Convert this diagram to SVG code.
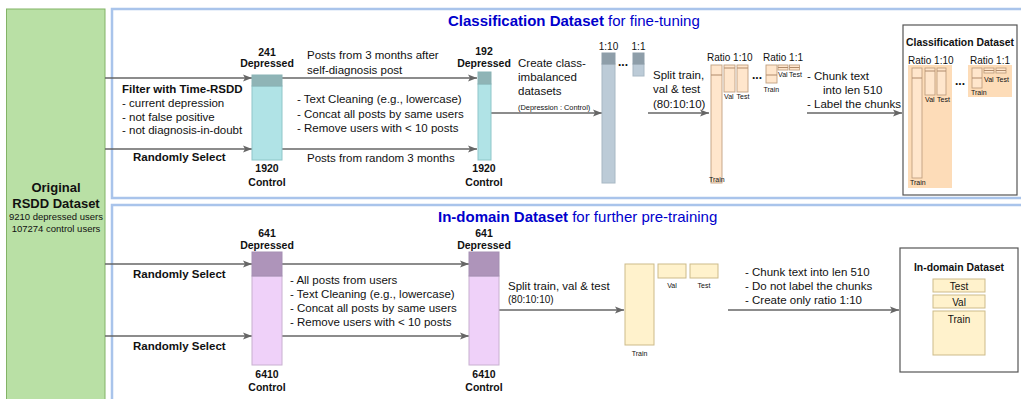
<svg xmlns="http://www.w3.org/2000/svg" width="1021" height="399" viewBox="0 0 1021 399">
<defs>
<marker id="arr" markerUnits="userSpaceOnUse" markerWidth="10" markerHeight="8" refX="9" refY="4" orient="auto">
<path d="M0,0.5 L9,4 L0,7.5 L2,4 z" fill="#666"/>
</marker>
</defs>
<style>
text{font-family:"Liberation Sans",Arial,Helvetica,sans-serif;fill:#111}
.b{font-weight:bold}
.t{font-size:11.5px}
.lbl{font-size:10.5px;font-weight:bold;text-anchor:middle}
.sm{font-size:7px}
.panel{fill:#fff;stroke:#a9c4eb;stroke-width:2.5}
.conn line{stroke:#666;stroke-width:1.6;marker-end:url(#arr)}
.tealD{fill:#8fb4b6;stroke:#8ab3b5}
.tealL{fill:#b0e3e6;stroke:#8fc6c9}
.purD{fill:#ae94ba;stroke:#a58fb3}
.purL{fill:#efd1f9;stroke:#c8b0d0}
.gbD{fill:#8e9ea9;stroke:#8e9ea9}
.gbL{fill:#bccbd7;stroke:#a8b8c4}
.or{fill:#ffe6cc;stroke:#c0a080;stroke-width:0.9}
.orA{fill:#fddcb8}
.ye{fill:#fff2cc;stroke:#cdbb8a;stroke-width:1}
.ttl{font-size:15px;fill:#0000cc}
</style>

<g id="original">
<rect x="6.5" y="9" width="98.5" height="395" fill="#b9e0a5" stroke="#82b366" stroke-width="1"/>
<text x="56" y="191.5" class="b" font-size="13" text-anchor="middle">Original</text>
<text x="56" y="207.5" class="b" font-size="13" text-anchor="middle">RSDD Dataset</text>
<text x="56" y="219.5" font-size="9.5" text-anchor="middle">9210 depressed users</text>
<text x="56" y="231.5" font-size="9.5" text-anchor="middle">107274 control users</text>
</g>

<g id="panel-classification">
<rect class="panel" x="112" y="9" width="920" height="189"/>
<text x="448" y="26" class="ttl"><tspan font-weight="bold">Classification Dataset</tspan> for fine-tuning</text>
</g>
<g id="panel-indomain">
<rect class="panel" x="112" y="205" width="920" height="200"/>
<text x="438" y="222" class="ttl"><tspan font-weight="bold">In-domain Dataset</tspan> for further pre-training</text>
</g>

<g id="conn" class="conn">
<line x1="105" y1="78" x2="252" y2="78"/>
<line x1="105" y1="149" x2="252" y2="149"/>
<line x1="282" y1="78" x2="477" y2="78"/>
<line x1="282" y1="149" x2="477" y2="149"/>
<line x1="491" y1="113" x2="602" y2="113"/>
<line x1="648" y1="113" x2="709" y2="113"/>
<line x1="807" y1="113" x2="902" y2="113"/>
<line x1="105" y1="264" x2="252" y2="264"/>
<line x1="105" y1="336" x2="252" y2="336"/>
<line x1="282" y1="264" x2="469" y2="264"/>
<line x1="282" y1="336" x2="469" y2="336"/>
<line x1="499" y1="310" x2="624" y2="310"/>
<line x1="728" y1="310" x2="899" y2="310"/>
</g>

<g id="edge-labels-top">
<text class="t b" x="122" y="93">Filter with Time-RSDD</text>
<text class="t" x="122" y="107">- current depression</text>
<text class="t" x="122" y="121">- not false positive</text>
<text class="t" x="122" y="134">- not diagnosis-in-doubt</text>
<text class="t b" x="133" y="161">Randomly Select</text>
<text class="t" x="307" y="59">Posts from 3 months after</text>
<text class="t" x="307" y="74">self-diagnosis post</text>
<text class="t" x="297" y="103">- Text Cleaning (e.g., lowercase)</text>
<text class="t" x="297" y="118">- Concat all posts by same users</text>
<text class="t" x="297" y="132">- Remove users with &lt; 10 posts</text>
<text class="t" x="307" y="162">Posts from random 3 months</text>
<text class="t" x="518" y="67">Create class-</text>
<text class="t" x="518" y="81">imbalanced</text>
<text class="t" x="518" y="95">datasets</text>
<text x="518" y="109.5" font-size="7.4">(Depression : Control)</text>
<text class="t" x="653" y="79">Split train,</text>
<text class="t" x="653" y="93">val &amp; test</text>
<text class="t" x="653" y="107.5">(80:10:10)</text>
<text class="t" x="807" y="80">- Chunk text</text>
<text class="t" x="823" y="94">into len 510</text>
<text class="t" x="807" y="108">- Label the chunks</text>
</g>

<g id="edge-labels-bottom">
<text class="t b" x="133" y="278">Randomly Select</text>
<text class="t b" x="133" y="350">Randomly Select</text>
<text class="t" x="290" y="284">- All posts from users</text>
<text class="t" x="290" y="298">- Text Cleaning (e.g., lowercase)</text>
<text class="t" x="290" y="312">- Concat all posts by same users</text>
<text class="t" x="290" y="326">- Remove users with &lt; 10 posts</text>
<text class="t" x="508" y="290">Split train, val &amp; test</text>
<text x="508" y="302.5" font-size="10">(80:10:10)</text>
<text class="t" x="745" y="276">- Chunk text into len 510</text>
<text class="t" x="745" y="290">- Do not label the chunks</text>
<text class="t" x="745" y="304">- Create only ratio 1:10</text>
</g>

<g id="bar-241">
<rect class="tealL" x="252" y="86" width="30" height="74"/>
<rect class="tealD" x="252" y="75" width="30" height="11"/>
<text class="lbl" x="267" y="56">241</text>
<text class="lbl" x="267" y="67">Depressed</text>
<text class="lbl" x="267" y="172">1920</text>
<text class="lbl" x="267" y="186">Control</text>
</g>

<g id="bar-192">
<rect class="tealL" x="478" y="84" width="13" height="76"/>
<rect class="tealD" x="478" y="72" width="13" height="12"/>
<text class="lbl" x="484" y="55">192</text>
<text class="lbl" x="484" y="67">Depressed</text>
<text class="lbl" x="484" y="172">1920</text>
<text class="lbl" x="484" y="186">Control</text>
</g>

<g id="imbalanced">
<rect class="gbL" x="602" y="64" width="13" height="119"/>
<rect class="gbD" x="602" y="53" width="13" height="11"/>
<rect class="gbL" x="633" y="64" width="11" height="12"/>
<rect class="gbD" x="633" y="53" width="11" height="11"/>
<text x="608.5" y="50" font-size="10" text-anchor="middle">1:10</text>
<text x="638.5" y="50" font-size="10" text-anchor="middle">1:1</text>
<text x="623" y="66" font-size="12" class="b" text-anchor="middle">...</text>
</g>

<g id="split-top">
<text x="707" y="61" font-size="10">Ratio 1:10</text>
<rect class="or" x="711" y="65" width="11" height="118"/>
<line x1="711" y1="75" x2="722" y2="75" stroke="#b08a6a" stroke-width="1"/>
<rect class="or" x="724" y="65" width="11" height="27"/>
<line x1="724" y1="68" x2="735" y2="68" stroke="#b08a6a" stroke-width="1"/>
<rect class="or" x="737" y="65" width="11" height="27"/>
<line x1="737" y1="68" x2="748" y2="68" stroke="#b08a6a" stroke-width="1"/>
<text class="sm" x="724" y="98.5">Val</text>
<text class="sm" x="736.5" y="98.5">Test</text>
<text class="sm" x="709" y="181.5">Train</text>
<text x="757" y="79" font-size="12" class="b" text-anchor="middle">...</text>
<text x="763" y="61" font-size="10">Ratio 1:1</text>
<rect class="or" x="766" y="65" width="11" height="18"/>
<line x1="766" y1="75" x2="777" y2="75" stroke="#b08a6a" stroke-width="1"/>
<rect class="or" x="778" y="65" width="10" height="5"/>
<line x1="778" y1="67.5" x2="788" y2="67.5" stroke="#b08a6a" stroke-width="1"/>
<rect class="or" x="789.5" y="65" width="10" height="5"/>
<line x1="789.5" y1="67.5" x2="799.5" y2="67.5" stroke="#b08a6a" stroke-width="1"/>
<text class="sm" x="778" y="76.5">Val</text>
<text class="sm" x="789" y="76.5">Test</text>
<text class="sm" x="763.5" y="91.5">Train</text>
</g>

<g id="classification-dataset">
<rect x="903" y="25" width="114" height="170" fill="#fff" stroke="#555" stroke-width="1.2"/>
<text x="960" y="45.5" font-size="10.4" class="b" text-anchor="middle">Classification Dataset</text>
<text x="908" y="63.5" font-size="10">Ratio 1:10</text>
<text x="970" y="63.5" font-size="10">Ratio 1:1</text>
<rect class="orA" x="908" y="65" width="44" height="123"/>
<rect class="or" x="912" y="68" width="10" height="110"/>
<line x1="912" y1="78" x2="922" y2="78" stroke="#b08a6a" stroke-width="1"/>
<rect class="or" x="925" y="68" width="10" height="27"/>
<line x1="925" y1="71" x2="935" y2="71" stroke="#b08a6a" stroke-width="1"/>
<rect class="or" x="937" y="68" width="9" height="27"/>
<line x1="937" y1="71" x2="946" y2="71" stroke="#b08a6a" stroke-width="1"/>
<text class="sm" x="925" y="101.5">Val</text>
<text class="sm" x="937" y="101.5">Test</text>
<text class="sm" x="910" y="184.5">Train</text>
<text x="960" y="85" font-size="12" class="b" text-anchor="middle">...</text>
<rect class="orA" x="968" y="65" width="44" height="32"/>
<rect class="or" x="972" y="68" width="10" height="20"/>
<line x1="972" y1="78" x2="982" y2="78" stroke="#b08a6a" stroke-width="1"/>
<rect class="or" x="984" y="68" width="10" height="5"/>
<line x1="984" y1="70.5" x2="994" y2="70.5" stroke="#b08a6a" stroke-width="1"/>
<rect class="or" x="996" y="68" width="10" height="5"/>
<line x1="996" y1="70.5" x2="1006" y2="70.5" stroke="#b08a6a" stroke-width="1"/>
<text class="sm" x="984" y="81.5">Val</text>
<text class="sm" x="996" y="81.5">Test</text>
<text class="sm" x="971" y="94.5">Train</text>
</g>

<g id="bar-641-a">
<rect class="purL" x="252" y="276" width="30" height="89"/>
<rect class="purD" x="252" y="252" width="30" height="24"/>
<text class="lbl" x="267" y="236.5">641</text>
<text class="lbl" x="267" y="248.5">Depressed</text>
<text class="lbl" x="267" y="377.5">6410</text>
<text class="lbl" x="267" y="390.5">Control</text>
</g>

<g id="bar-641-b">
<rect class="purL" x="469" y="276" width="30" height="89"/>
<rect class="purD" x="469" y="252" width="30" height="24"/>
<text class="lbl" x="484" y="236.5">641</text>
<text class="lbl" x="484" y="248.5">Depressed</text>
<text class="lbl" x="484" y="377.5">6410</text>
<text class="lbl" x="484" y="390.5">Control</text>
</g>

<g id="split-bottom">
<rect class="ye" x="625" y="264" width="29" height="81"/>
<rect class="ye" x="658" y="264" width="28" height="14"/>
<rect class="ye" x="690" y="264" width="28" height="14"/>
<text class="sm" x="672" y="287.5" text-anchor="middle">Val</text>
<text class="sm" x="704" y="287.5" text-anchor="middle">Test</text>
<text class="sm" x="639.5" y="355.5" text-anchor="middle">Train</text>
</g>

<g id="indomain-dataset">
<rect x="900" y="248" width="118" height="124" fill="#fff" stroke="#555" stroke-width="1.2"/>
<text x="959" y="270.5" font-size="10.4" class="b" text-anchor="middle">In-domain Dataset</text>
<rect class="ye" x="933" y="279" width="52" height="13"/>
<rect class="ye" x="933" y="295" width="52" height="13"/>
<rect class="ye" x="933" y="311" width="52" height="44"/>
<text x="959" y="289.5" font-size="10" text-anchor="middle">Test</text>
<text x="959" y="305.5" font-size="10" text-anchor="middle">Val</text>
<text x="959" y="322.5" font-size="10" text-anchor="middle">Train</text>
</g>
</svg>
